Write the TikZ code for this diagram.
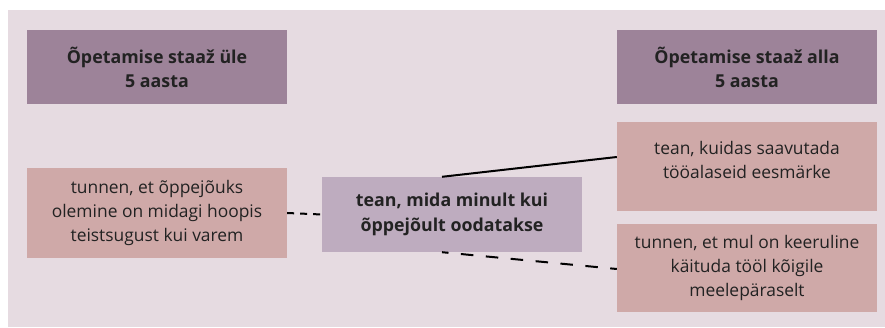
\documentclass[tikz,border=0pt]{standalone}
\usepackage{fontspec}
\setmainfont{Open Sans}
\definecolor{panel}{HTML}{E6DBE1}
\definecolor{headfill}{HTML}{9D8399}
\definecolor{itemfill}{HTML}{CFA9A8}
\definecolor{corefill}{HTML}{BEACBF}
\definecolor{ink}{HTML}{222222}
\tikzset{
  box/.style={rectangle, inner sep=0pt, minimum width=260pt, align=center,
    text=ink, font=\fontsize{17.4}{24.3}\selectfont},
  headbox/.style={box, fill=headfill, minimum height=74pt,
    font=\fontsize{17.8}{24}\selectfont\bfseries},
  itembox/.style={box, fill=itemfill},
  corebox/.style={box, fill=corefill, minimum height=75pt,
    font=\fontsize{17.8}{25}\selectfont\bfseries},
  link/.style={line width=2pt, draw=black},
  shortdash/.style={link, dash pattern=on 7pt off 6pt},
  longdash/.style={link, dash pattern=on 12.5pt off 12.5pt, dash phase=6pt}
}
\begin{document}
\begin{tikzpicture}[x=1pt,y=-1pt]
  \useasboundingbox (0,0) rectangle (885,328);
  \fill[white] (0,0) rectangle (885,328);
  \fill[panel] (8,10) rectangle (885,327);

  \node[headbox] (hleft) at (157,67) {Õpetamise staaž üle\\5 aasta};
  \node[headbox] (hright) at (747,67) {Õpetamise staaž alla\\5 aasta};

  \node[itembox, minimum height=90pt] (left) at (157,213)
    {tunnen, et õppejõuks\\olemine on midagi hoopis\\teistsugust kui varem};
  \node[corebox] (core) at (452,214.5)
    {tean, mida minult kui\\õppejõult oodatakse};
  \node[itembox, minimum height=89pt, text depth=13pt] (rtop) at (747,166.5)
    {tean, kuidas saavutada\\tööalaseid eesmärke};
  \node[itembox, minimum height=88pt] (rbot) at (747,268)
    {tunnen, et mul on keeruline\\käituda tööl kõigile\\meelepäraselt};

  \coordinate (coretop) at ([xshift=-10pt]core.north);
  \coordinate (corebot) at ([xshift=-10pt]core.south);

  \draw[shortdash] (left.east) -- (core.west);
  \draw[link] (coretop) -- ([yshift=9.5pt]rtop.west);
  \draw[longdash] (corebot) -- ([yshift=-1pt]rbot.west);
\end{tikzpicture}
\end{document}
